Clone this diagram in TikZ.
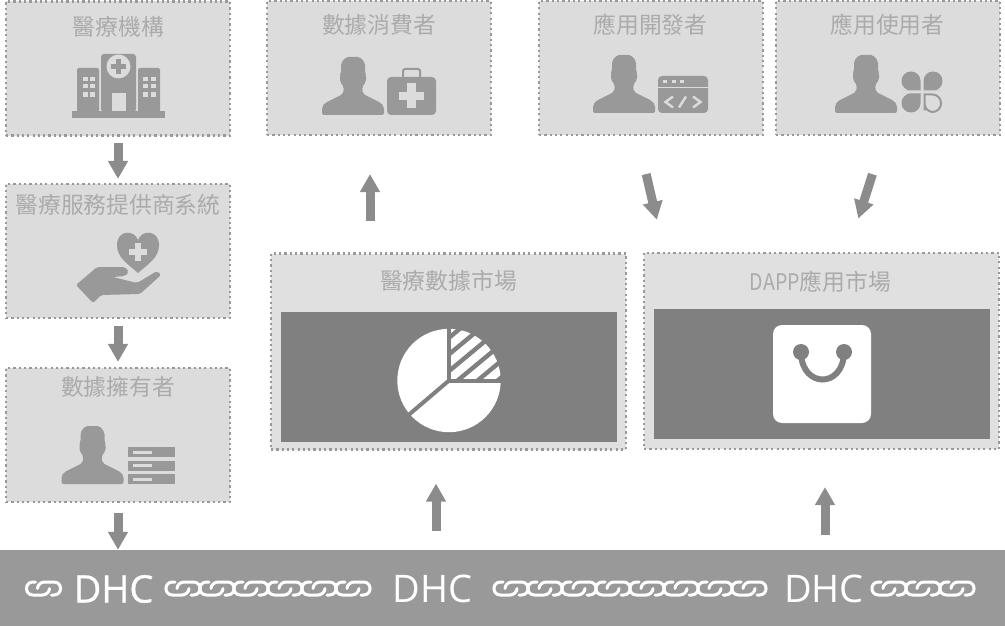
\documentclass[tikz,border=0pt]{standalone}
\usepackage{fontspec}
\usetikzlibrary{arrows.meta}
\newfontfamily\cjk{Noto Sans CJK TC}
\newfontfamily\latinlabel{Open Sans}
\definecolor{boxfill}{HTML}{DCDCDC}
\definecolor{marketfill}{HTML}{E0E0E0}
\definecolor{dotline}{HTML}{999999}
\definecolor{titletext}{HTML}{ABABAB}
\definecolor{iconfill}{HTML}{999999}
\definecolor{panelfill}{HTML}{808080}
\definecolor{arrowfill}{HTML}{8C8C8C}
\tikzset{
	rolebox/.style={draw=dotline,fill=boxfill,line width=2.2pt,dash pattern=on 2.2pt off 3.1pt,minimum width=224pt,minimum height=134pt,inner sep=0pt},
	marketbox/.style={draw=dotline,fill=marketfill,line width=2.2pt,dash pattern=on 2.2pt off 3.1pt,minimum width=355pt,minimum height=196pt,inner sep=0pt},
	panelbox/.style={fill=panelfill,minimum width=336pt,minimum height=130pt,inner sep=0pt},
	boxtitle/.style={text=titletext,font=\cjk\fontsize{22.8}{24}\selectfont,inner sep=0pt},
	barlabel/.style={text=white,font=\latinlabel\fontsize{38}{40}\selectfont,inner sep=0pt},
	flow/.style={draw=arrowfill,line width=9pt,-{Triangle[length=18pt,width=19pt]}},
	chainunit/.pic={
		\draw[white,line width=3pt,line cap=round] (-8,-6.5) -- (-10.5,-6.5) .. controls (-19.2,-6.5) and (-19.2,6.5) .. (-10.5,6.5) -- (-1,6.5) .. controls (3,6.5) and (6,3) .. (6,0);
		\draw[white,line width=3pt,line cap=round] (8,6.5) -- (10.5,6.5) .. controls (19.2,6.5) and (19.2,-6.5) .. (10.5,-6.5) -- (1,-6.5) .. controls (-3,-6.5) and (-6,-3) .. (-6,0);
	},
	person/.pic={
		\fill[iconfill,rounded corners=2pt] (-10,-21) -- (-28,-12) -- (-31,-8) -- (-31,0) -- (31,0) -- (31,-8) -- (28,-12) -- (10,-21) -- (9,-28) -- (13,-33) -- (13,-40) -- (12,-42) -- (12,-52) -- (7,-58) -- (-7,-58) -- (-12,-52) -- (-12,-42) -- (-13,-40) -- (-13,-33) -- (-9,-28) -- cycle;
	},
	petal/.pic={
		\path[pic actions,rounded corners=9.4pt] (-1.5,-1.5) -- (-1.5,-20.5) -- (-20.5,-20.5) -- (-20.5,-1.5) -- (-10,-1.5) [sharp corners] -- (-1.5,-1.5) -- cycle;
	}
}
\begin{document}
\begin{tikzpicture}[x=1pt,y=-1pt]
	\useasboundingbox (0,0) rectangle (1005,626);
	\node[rolebox] (hospital) at (118,68.5) {};
	\node[rolebox] (provider) at (118,251) {};
	\node[rolebox] (owner) at (118,435) {};
	\node[rolebox] (consumer) at (379,68) {};
	\node[rolebox] (developer) at (651,68) {};
	\node[rolebox] (appuser) at (888,68) {};
	\node[marketbox] (datamarket) at (448.5,351.5) {};
	\node[marketbox] (appmarket) at (821.5,351) {};
	\node[panelbox] (datapanel) at (449,377) {};
	\node[panelbox] (apppanel) at (822,374) {};
	\fill[iconfill] (0,550) rectangle (1005,626);
	\node[minimum width=1005pt,minimum height=76pt,inner sep=0pt] (chainbar) at (502.5,588) {};
	\node[boxtitle] (hospitaltitle) at (118.5,27) {醫療機構};
	\node[boxtitle] (providertitle) at (118,205) {醫療服務提供商系統};
	\node[boxtitle] (ownertitle) at (118,387) {數據擁有者};
	\node[boxtitle] (consumertitle) at (379,25) {數據消費者};
	\node[boxtitle] (developertitle) at (650.5,25) {應用開發者};
	\node[boxtitle] (appusertitle) at (887.5,25) {應用使用者};
	\node[boxtitle] (datamarkettitle) at (448.5,281) {醫療數據市場};
	\node[boxtitle] (appmarkettitle) at (820.5,282) {{\addfontfeature{FakeStretch=0.86}DAPP}應用市場};
	% arrows
	\draw[flow,shorten <=6pt,shorten >=4pt] (hospital.south) -- (provider.north);
	\draw[flow,shorten <=7pt,shorten >=5pt] (provider.south) -- (owner.north);
	\draw[flow,shorten <=10pt,shorten >=0pt] (owner.south) -- (chainbar.north -| owner.south);
	\draw[flow,shorten <=31pt,shorten >=38pt] ([xshift=-78.5pt]datamarket.north) -- ([xshift=-9pt]consumer.south);
	\draw[flow,shorten <=39pt,shorten >=33pt] ([xshift=-13.7pt]developer.south) -- ([xshift=-157.2pt]appmarket.north);
	\draw[flow,shorten <=40pt,shorten >=35pt] ([xshift=-3.4pt]appuser.south) -- ([xshift=26.2pt]appmarket.north);
	\draw[flow,shorten <=19pt,shorten >=33pt] ([xshift=-66.5pt]chainbar.north) -- ([xshift=-12.5pt]datamarket.south);
	\draw[flow,shorten <=15pt,shorten >=37pt] ([xshift=322.5pt]chainbar.north) -- ([xshift=3.5pt]appmarket.south);
	% hospital
	\fill[iconfill] (72,111) rectangle (165,118);
	\fill[iconfill,rounded corners=2pt] (77,112) -- (77,68) -- (99,68) -- (99,112) -- cycle;
	\fill[iconfill,rounded corners=2pt] (138,112) -- (138,68) -- (160,68) -- (160,112) -- cycle;
	\fill[iconfill,rounded corners=3pt] (101,112) -- (101,54) -- (136,54) -- (136,112) -- cycle;
	\fill[boxfill] (118.5,66.5) circle (12);
	\fill[iconfill] (116,59) rectangle (121,74);
	\fill[iconfill] (111,64) rectangle (126,69);
	\fill[boxfill] (112,93) rectangle (126,111);
	\foreach \px in {82.7,90,143,150.5} {
		\foreach \py in {77,84,92.5} {
			\fill[boxfill] (\px,\py) rectangle ++(5,4.5);
		}
	}
	% heart and hand
	\fill[iconfill] (138,273) .. controls (128,264) and (117,258) .. (117,245) .. controls (117,230) and (134,229) .. (138,240) .. controls (142,229) and (159,230) .. (159,245) .. controls (159,258) and (148,264) .. (138,273) -- cycle;
	\fill[boxfill] (135,243) rectangle (141,261);
	\fill[boxfill] (129,249) rectangle (147,255);
	\fill[iconfill,rounded corners=2pt] (76,285) -- (97,267) -- (125,267) -- (129,272) -- (125,276) -- (113,277) -- (137,283) -- (157,271) -- (161,275) -- (140,294) -- (101,295) -- (93,303) -- cycle;
	% people
	\pic at (353,115) {person};
	\pic at (624,113) {person};
	\pic at (866,113) {person};
	\pic at (92.5,484) {person};
	% first aid kit
	\fill[iconfill,rounded corners=4pt] (387,77) rectangle (436,115);
	\draw[iconfill,line width=2pt,rounded corners=2pt] (403,78) -- (403,69) -- (420,69) -- (420,78);
	\fill[boxfill] (407,83) rectangle (415.5,108.5);
	\fill[boxfill] (398.5,92) rectangle (424,100.5);
	% code window
	\fill[iconfill,rounded corners=4pt] (658,76) rectangle (708,113);
	\draw[boxfill,line width=1pt] (658,87.3) -- (708,87.3);
	\fill[boxfill] (663,80) rectangle +(4,3);
	\fill[boxfill] (672,80) rectangle +(4,3);
	\fill[boxfill] (680,80) rectangle +(4,3);
	\draw[boxfill,line width=2.4pt] (673,96.5) -- (665.5,102) -- (673,107.5);
	\draw[boxfill,line width=2.4pt] (686,96.5) -- (679,107.5);
	\draw[boxfill,line width=2.4pt] (693,96.5) -- (700.5,102) -- (693,107.5);
	% clover
	\pic[fill=iconfill] at (922,92) {petal};
	\pic[fill=iconfill,xscale=-1] at (922,92) {petal};
	\pic[fill=iconfill,yscale=-1] at (922,92) {petal};
	\draw[iconfill,line width=2pt,rounded corners=8.5pt] (924.5,94.5) -- (941,94.5) -- (941,112) -- (924.5,112) -- (924.5,102) [sharp corners] -- (924.5,94.5);
	% server list
	\foreach \py in {447,460.5,474} {
		\fill[iconfill] (128,\py) rectangle (175,\py+10);
		\fill[boxfill] (133,\py+3.5) rectangle (152,\py+6.5);
	}
	% pie
	\fill[white] (449,380.5) circle (51.7);
	\begin{scope}
		\clip (449,380.5) -- (449,328) -- (502,328) -- (502,380.5) -- cycle;
		\foreach \st in {319,335.7,352.3,369,385.6,402.2,418.8} {
			\draw[panelfill,line width=4.4pt] (431.5,\st+16.6) -- ++(90,-74.7);
		}
	\end{scope}
	\draw[panelfill,line width=4pt] (449,325) -- (449,380.5) -- (505,380.5);
	\draw[panelfill,line width=4pt] (449,380.5) -- (405,418);
	% bag
	\fill[white,rounded corners=9pt] (773,325) rectangle (871,423);
	\draw[panelfill,line width=6pt] (801,354) .. controls (803,388) and (842,388) .. (844,354);
	\fill[panelfill] (801,352) circle (8);
	\fill[panelfill] (844,352) circle (8);
	% chain bar
	\node[barlabel] (dhcleft) at (113.5,589) {\addfontfeature{FakeBold=0.6}DHC};
	\node[barlabel] (dhcmid) at (432.5,589) {DHC};
	\node[barlabel] (dhcright) at (824,589) {DHC};
	\pic at (43.5,588.5) {chainunit};
	\foreach \cx in {183,217,251,285,319,353} {
		\pic at (\cx,588.5) {chainunit};
	}
	\foreach \cx in {511,545,579,613,647,681,715,749} {
		\pic at (\cx,588.5) {chainunit};
	}
	\foreach \cx in {889,923,957} {
		\pic at (\cx,588.5) {chainunit};
	}
\end{tikzpicture}
\end{document}
